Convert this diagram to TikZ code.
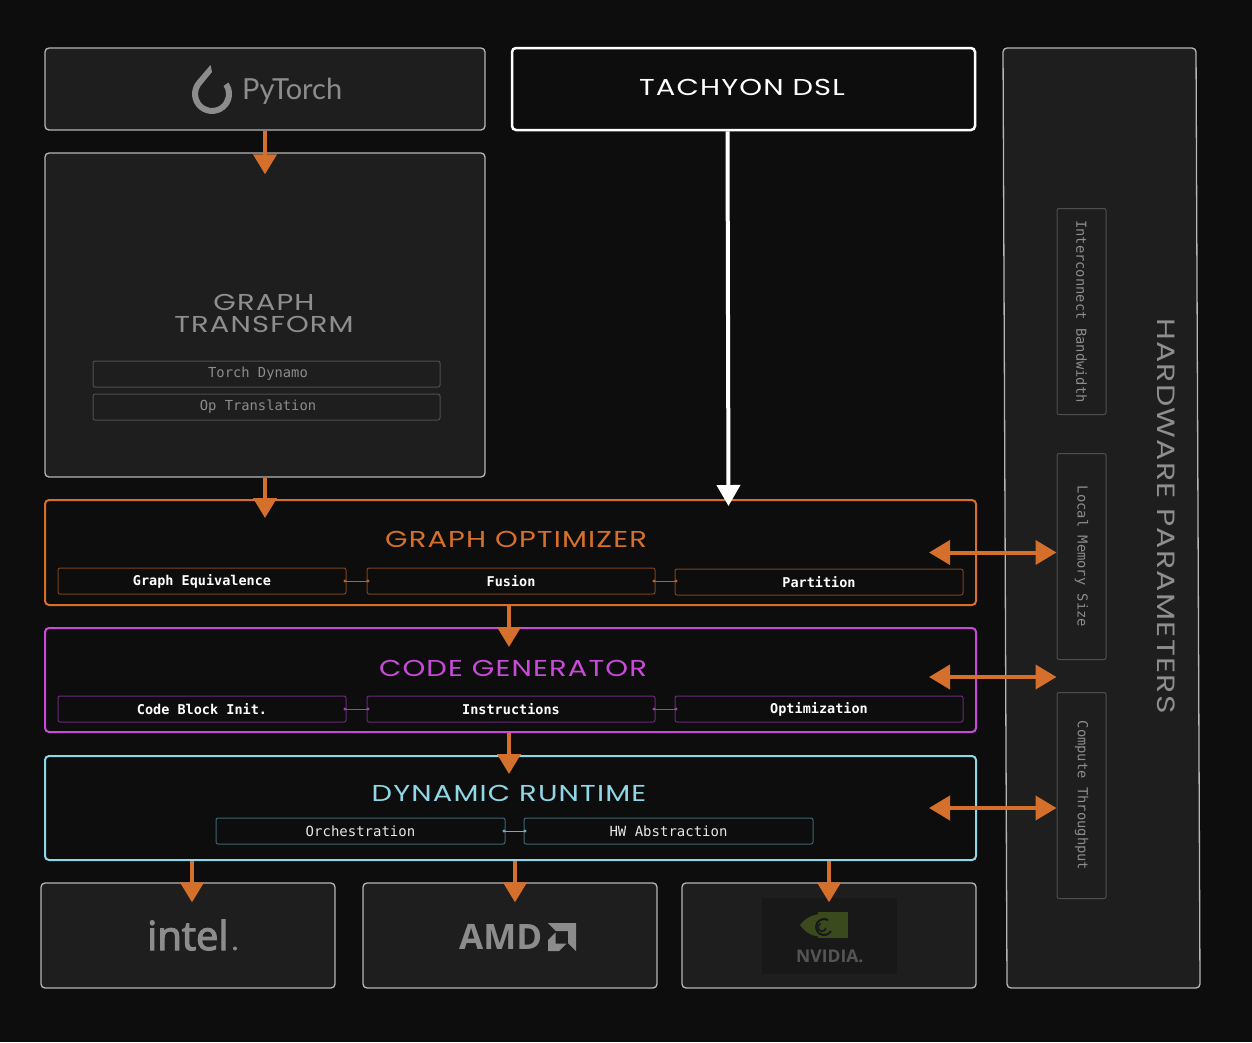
\documentclass[tikz,border=0pt]{standalone}
\usepackage{fontspec}
\setmonofont{DejaVu Sans Mono}
\newfontfamily\techfont[FakeStretch=1.26,LetterSpace=5]{Poppins}
\newfontfamily\logofont{Open Sans}
\newfontfamily\intelfont[FakeBold=3]{Open Sans}
\newfontfamily\ptfont{Lato}
\usetikzlibrary{arrows.meta,calc}
\definecolor{bg}{HTML}{0D0D0D}
\definecolor{boxfill}{HTML}{1E1E1E}
\definecolor{boxline}{HTML}{B5B5B5}
\definecolor{subline}{HTML}{4E4E4E}
\definecolor{logogray}{HTML}{8C8C8C}
\definecolor{titlegray}{HTML}{8E8E8E}
\definecolor{orng}{HTML}{D4702C}
\definecolor{orngdark}{HTML}{7D4420}
\definecolor{orngthin}{HTML}{B8612A}
\definecolor{mag}{HTML}{C94AD9}
\definecolor{magdark}{HTML}{6A2A7A}
\definecolor{magthin}{HTML}{A040B0}
\definecolor{cyn}{HTML}{8FD6E6}
\definecolor{cyndark}{HTML}{3D6670}
\definecolor{cynthin}{HTML}{6AAFBF}
\definecolor{nvbox}{HTML}{181818}
\definecolor{nvgreen}{HTML}{3B4A1C}
\definecolor{nvtext}{HTML}{555555}
\begin{document}
\begin{tikzpicture}[x=1pt,y=-1pt,
  panel/.style={draw=boxline, fill=boxfill, line width=1.3pt, rounded corners=4pt, inner sep=0pt},
  stagebox/.style={fill=bg, line width=2pt, rounded corners=4pt, inner sep=0pt, minimum width=931pt},
  gtsub/.style={draw=subline, fill=boxfill, line width=1pt, rounded corners=2pt, inner sep=0pt,
    minimum width=347pt, minimum height=26pt},
  gttext/.style={text=logogray, inner sep=0pt, font=\ttfamily\fontsize{13.8}{14}\selectfont},
  stagesub/.style={fill=bg, line width=1pt, rounded corners=2pt, inner sep=0pt,
    minimum width=288pt, minimum height=26pt, text=white, font=\ttfamily\bfseries\fontsize{13.5}{14}\selectfont},
  hwsub/.style={draw=subline, fill=boxfill, line width=1pt, rounded corners=2pt, inner sep=0pt,
    minimum width=49pt, minimum height=206pt},
  hwtext/.style={rotate=-90, text=logogray, font=\ttfamily\fontsize{13.8}{14}\selectfont, inner sep=0pt},
  title/.style={font=\techfont\fontsize{23}{22}\selectfont, inner sep=0pt, align=center},
  arr/.style={draw=orng, line width=4pt, -{Triangle[width=23pt,length=20pt]}},
  dbl/.style={draw=orng, line width=4pt, {Triangle[width=24pt,length=21pt]}-{Triangle[width=24pt,length=21pt]}},
  link/.style={line width=0.9pt, {Circle[length=3pt,width=3pt]}-{Circle[length=3pt,width=3pt]}}
]
\fill[bg] (0,0) rectangle (1252,1042);
\useasboundingbox (0,0) rectangle (1252,1042);

% hardware parameters panel
\path[draw=boxline, fill=boxfill, line width=1.3pt, rounded corners=4pt]
  (1003,48) -- (1196,48) -- (1200,988) -- (1007,988) -- cycle;
\node[title, rotate=-90, text=titlegray, font=\techfont\fontsize{25}{25}\selectfont] (hwtitle) at (1166,516) {HARDWARE PARAMETERS};
\node[hwsub] (ib) at (1081.5,311.5) {};
\node[hwtext] (ibt) at (ib.center) {Interconnect Bandwidth};
\node[hwsub] (lm) at (1081.5,556.5) {};
\node[hwtext] (lmt) at (lm.center) {Local Memory Size};
\node[hwsub] (ct) at (1081.5,795.5) {};
\node[hwtext] (ctt) at (ct.center) {Compute Throughput};

% PyTorch
\node[panel, minimum width=440pt, minimum height=82pt] (pt) at (265,89) {};
\fill[logogray] (210.5,65) -- (196.7,81.1) arc[start angle=220, end angle=-35, radius=20]
  -- (223.5,86) arc[start angle=-35, end angle=215, radius=14] -- (212,72) -- cycle;
\node[anchor=base west, font=\ptfont\fontsize{29}{30}\selectfont, text=logogray, inner sep=0pt] (ptlabel) at (242,99) {PyTorch};

% Graph transform
\node[panel, minimum width=440pt, minimum height=324pt] (gt) at (265,315) {};
\node[title, text=titlegray] (gtt) at (264,313) {GRAPH\\TRANSFORM};
\node[gtsub] (td) at (266.5,374) {};
\node[gttext] (tdt) at (258,374) {Torch Dynamo};
\node[gtsub] (ot) at (266.5,407) {};
\node[gttext] (ott) at (258,407) {Op Translation};

% Tachyon DSL
\node[draw=white, fill=bg, line width=2.5pt, rounded corners=4pt, minimum width=463pt, minimum height=82pt] (dsl) at (743.5,89) {};
\node[title, text=white] (dslt) at (742,87) {TACHYON DSL};

% Graph optimizer
\node[stagebox, draw=orng, minimum height=105pt] (go) at (510.5,552.5) {};
\node[title, text=orng] (got) at (516,539) {GRAPH OPTIMIZER};
\node[stagesub, draw=orngdark] (ge) at (202,581) {Graph Equivalence};
\node[stagesub, draw=orngdark] (fu) at (511,581) {Fusion};
\node[stagesub, draw=orngdark] (pa) at (819,582) {Partition};
\draw[link, orngthin] ($(ge.east)+(-3,0)$) -- ($(fu.west)+(3,0)$);
\draw[link, orngthin] ($(fu.east)+(-3,0)$) -- ($(pa.west)+(3,-1)$);

% Code generator
\node[stagebox, draw=mag, minimum height=104pt] (cg) at (510.5,680) {};
\node[title, text=mag] (cgt) at (513,668) {CODE GENERATOR};
\node[stagesub, draw=magdark] (cb) at (202,709) {Code Block Init.};
\node[stagesub, draw=magdark] (ins) at (511,709) {Instructions};
\node[stagesub, draw=magdark] (opt) at (819,709) {Optimization};
\draw[link, magthin] ($(cb.east)+(-3,0)$) -- ($(ins.west)+(3,0)$);
\draw[link, magthin] ($(ins.east)+(-3,0)$) -- ($(opt.west)+(3,0)$);

% Dynamic runtime
\node[stagebox, draw=cyn, minimum height=104pt] (dr) at (510.5,808) {};
\node[title, text=cyn] (drt) at (509,793) {DYNAMIC RUNTIME};
\node[stagesub, draw=cyndark, minimum width=289pt, font=\ttfamily\fontsize{14}{14}\selectfont, text=white!90!black] (orc) at (360.5,831) {Orchestration};
\node[stagesub, draw=cyndark, minimum width=289pt, font=\ttfamily\fontsize{14}{14}\selectfont, text=white!90!black] (hwa) at (668.5,831) {HW Abstraction};
\draw[link, cynthin] ($(orc.east)+(-3,0)$) -- ($(hwa.west)+(3,0)$);

% Vendors
\node[panel, minimum width=294pt, minimum height=105pt] (intel) at (188,935.5) {};
\node[panel, minimum width=294pt, minimum height=105pt] (amd) at (510,935.5) {};
\node[panel, minimum width=294pt, minimum height=105pt] (nv) at (829,935.5) {};

\node[anchor=base west, inner sep=0pt, text=logogray, font=\intelfont\fontsize{40}{40}\selectfont] (intelt) at (147,950) {intel};
\fill[logogray] (235,948.5) circle[radius=2];

\node[anchor=base west, inner sep=0pt, text=logogray, font=\logofont\bfseries\fontsize{35}{36}\selectfont] (amdt) at (459,949) {AMD};
\fill[logogray] (548,923) -- (576,923) -- (576,951) -- (568,943) -- (568,931) -- (556,931) -- cycle;
\fill[logogray] (555.5,932.5) -- (548,940) -- (548,951) -- (559,951) -- (566.5,943.5) -- (555.5,943.5) -- cycle;

\fill[nvbox] (762,898) rectangle (897,974);
\fill[nvgreen] (818,912) rectangle (848,938);
\fill[nvgreen] (800,925) .. controls (808,914) and (822,911) .. (838,917) -- (838,933) .. controls (822,940) and (808,937) .. (800,925) -- cycle;
\draw[nvbox, line width=2pt] (831,931) arc[start angle=30, end angle=300, radius=8];
\draw[nvbox, line width=1.6pt] (826,928) arc[start angle=10, end angle=250, radius=4];
\node[anchor=base west, inner sep=0pt, text=nvtext, font=\logofont\bfseries\fontsize{17.5}{18}\selectfont] (nvt) at (796,962) {NVIDIA.};

% Connectors
\draw[arr] (pt.south) -- ($(gt.north)+(0,22)$);
\draw[arr] (gt.south) -- ($(gt.south |- go.north)+(0,19)$);
\draw[draw=white, line width=4pt, -{Triangle[width=23pt,length=21pt]}] ($(dsl.south)+(-16,0)$) -- ($(dsl.south |- go.north)+(-15,7)$);
\draw[arr] ($(go.south)+(-1.5,0)$) -- ($(cg.north)+(-1.5,20)$);
\draw[arr] ($(cg.south)+(-1.5,0)$) -- ($(dr.north)+(-1.5,19)$);
\draw[arr] ($(intel.north |- dr.south)+(4,0)$) -- ($(intel.north)+(4,20)$);
\draw[arr] ($(amd.north |- dr.south)+(5,0)$) -- ($(amd.north)+(5,20)$);
\draw[arr] (nv.north |- dr.south) -- ($(nv.north)+(0,20)$);
\draw[dbl] ($(go.east)+(-48,0)$) -- (go.east -| lm.west);
\draw[dbl] ($(cg.east)+(-48,-3)$) -- ($(cg.east -| lm.west)+(0,-3)$);
\draw[dbl] ($(dr.east)+(-48,0)$) -- (dr.east -| ct.west);
\end{tikzpicture}
\end{document}
